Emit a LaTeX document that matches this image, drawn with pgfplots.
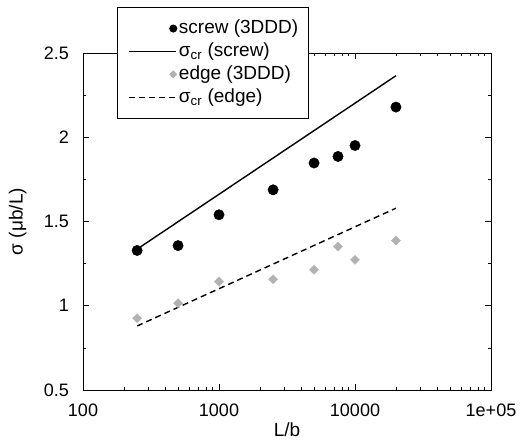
\documentclass[border=0pt]{standalone}
\usepackage{fontspec}
\setmainfont{Liberation Sans}
\usepackage{pgfplots}
\pgfplotsset{compat=1.18}
\definecolor{edgegray}{RGB}{178,178,178}
\pgfplotsset{
  legmark/.style={legend image code/.code={\path[draw=none,fill=none] (0pt,0pt) (51pt,0pt);\draw[##1, mark size=#1] plot coordinates {(48pt,0pt)};}},
  legline/.style={legend image code/.code={\draw[##1] (4pt,0pt) -- (51pt,0pt);}},
}
\begin{document}
\fontsize{19}{22}\selectfont
\begin{tikzpicture}
\begin{axis}[
  at={(0pt,0pt)}, anchor=south west,
  scale only axis, width=408pt, height=337pt,
  xmode=log, xmin=100, xmax=100000, ymin=0.5, ymax=2.5,
  xtick={100,1000,10000,100000}, xticklabels={100,1000,10000,1e+05},
  ytick={0.5,1,1.5,2,2.5}, yticklabels={0.5,1,1.5,2,2.5},
  minor y tick num=1,
  tick align=inside, major tick length=6pt, minor tick length=3.5pt,
  /pgf/number format/assume math mode=true,
  tick label style={font=\fontsize{18}{21}\selectfont},
  yticklabel style={xshift=-7.5pt},
  xticklabel style={yshift=-7pt},
  label style={font=\fontsize{19}{22}\selectfont},
  xlabel={L/b}, ylabel={σ (μb/L)},
  xlabel style={at={(axis description cs:0.5,-0.118)}, anchor=center},
  ylabel style={at={(axis description cs:-0.16,0.5)}, anchor=center},
  axis line style={line width=0.8pt},
  every tick/.style={line width=0.6pt, black},
  legend cell align=left,
  legend style={at={(axis description cs:0.083,1.137)}, anchor=north west,
    draw=black, line width=0.8pt, fill=white, inner xsep=8pt, inner ysep=11pt,
    row sep=2.3pt, font=\fontsize{19}{22}\selectfont},
]
\addplot[only marks, mark=*, mark size=5.2pt, black, legmark=3.6pt]
  coordinates {(250,1.328) (500,1.357) (1000,1.540) (2500,1.688) (5000,1.847) (7500,1.886) (10000,1.951) (20000,2.179)};
\addlegendentry{screw (3DDD)}
\addplot[black, line width=1.4pt, mark=none, legline]
  coordinates {(250,1.336) (20000,2.365)};
\addlegendentry{σ\textsubscript{cr} (screw)}
\addplot[only marks, mark=square*, mark size=3.2pt, mark options={rotate=45}, color=edgegray, legmark=2.4pt]
  coordinates {(250,0.926) (500,1.015) (1000,1.144) (2500,1.157) (5000,1.213) (7500,1.351) (10000,1.272) (20000,1.387)};
\addlegendentry{edge (3DDD)}
\addplot[black, line width=1.4pt, dash pattern=on 6pt off 4pt, mark=none, legline]
  coordinates {(250,0.880) (20000,1.579)};
\addlegendentry{σ\textsubscript{cr} (edge)}
\end{axis}
\pgfresetboundingbox
\path[use as bounding box] (-83pt,-54pt) rectangle (438pt,390pt);
\end{tikzpicture}
\end{document}
